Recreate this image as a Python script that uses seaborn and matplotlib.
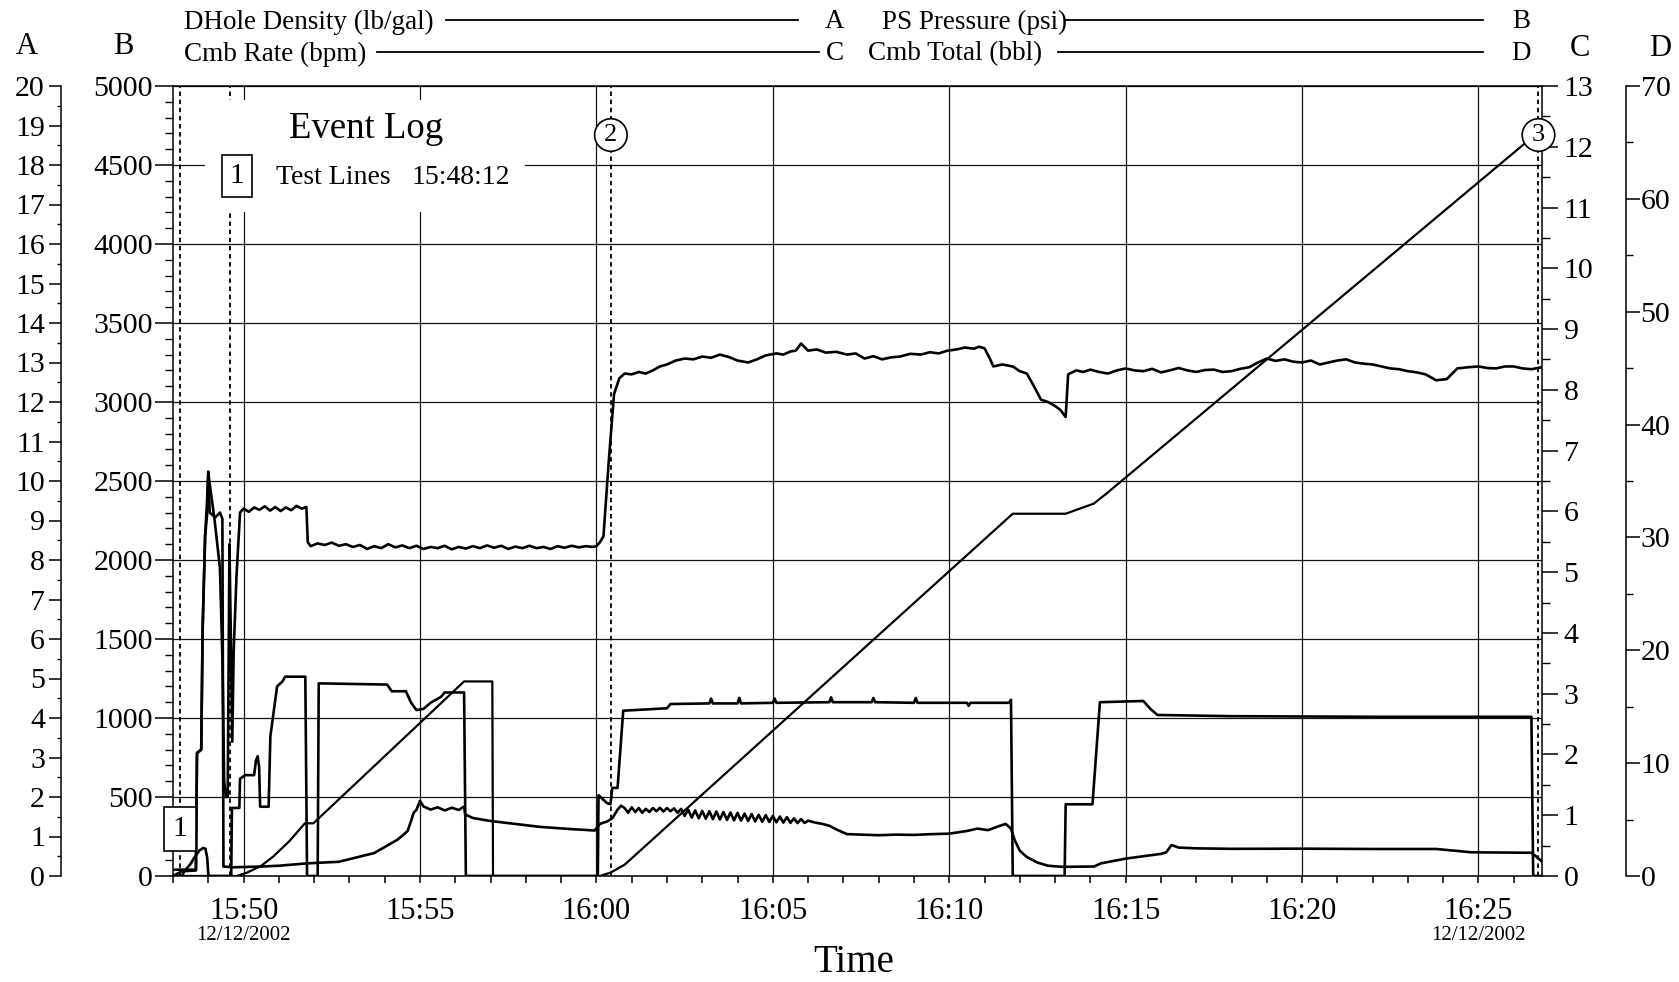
import numpy as np
import pandas as pd
import matplotlib
matplotlib.use("Agg")
import matplotlib.pyplot as plt
import matplotlib.dates as mdates
import matplotlib.transforms as mtrans
from matplotlib.ticker import MultipleLocator, FixedLocator, FixedFormatter
from matplotlib.lines import Line2D
from matplotlib.patches import Rectangle
import seaborn as sns

# ---------------- data (time = minutes after 15:48:00, 12/12/2002) ----------------
density_pts = [  # DHole Density (lb/gal) -> axis A
    [0, 0.16], [0.65, 0.16], [0.68, 3.1], [0.8, 3.2], [0.84, 6.2], [0.91, 8.6], [0.97, 9.2],
    [1.0, 10.2], [1.03, 10.0], [1.18, 9.0], [1.33, 7.8], [1.4, 5.5], [1.45, 2.4], [1.5, 2.0],
    [1.55, 2.0], [1.6, 8.4], [1.64, 6.0], [1.68, 3.4], [1.72, 5.7], [1.8, 7.6], [1.9, 9.2],
    [2.0, 9.3], [2.15, 9.22], [2.3, 9.33], [2.45, 9.27], [2.6, 9.36], [2.75, 9.25],
    [2.9, 9.34], [3.05, 9.24], [3.2, 9.33], [3.35, 9.26], [3.5, 9.37], [3.65, 9.3],
    [3.78, 9.34], [3.82, 8.45], [3.9, 8.35], [4.1, 8.42], [4.3, 8.38], [4.5, 8.44], [4.7, 8.36],
    [4.9, 8.4], [5.1, 8.33], [5.3, 8.38], [5.5, 8.28], [5.7, 8.35], [5.9, 8.3], [6.1, 8.4],
    [6.3, 8.32], [6.5, 8.37], [6.7, 8.3], [6.9, 8.36], [7.1, 8.28], [7.3, 8.33], [7.5, 8.3],
    [7.7, 8.36], [7.9, 8.27], [8.1, 8.33], [8.3, 8.29], [8.5, 8.35], [8.7, 8.3], [8.9, 8.37],
    [9.1, 8.31], [9.3, 8.36], [9.5, 8.28], [9.7, 8.34], [9.9, 8.3], [10.1, 8.36], [10.3, 8.3],
    [10.5, 8.33], [10.7, 8.28], [10.9, 8.35], [11.1, 8.31], [11.3, 8.36], [11.5, 8.32],
    [11.7, 8.35], [11.9, 8.33], [12.0, 8.35], [12.1, 8.45], [12.2, 8.6], [12.35, 10.5],
    [12.5, 12.2], [12.65, 12.6], [12.8, 12.72], [13.0, 12.7], [13.2, 12.76], [13.4, 12.72],
    [13.6, 12.8], [13.8, 12.9], [14.0, 12.95], [14.25, 13.05], [14.5, 13.1], [14.75, 13.08],
    [15.0, 13.15], [15.25, 13.12], [15.5, 13.2], [15.75, 13.14], [16.0, 13.05], [16.3, 13.0],
    [16.55, 13.08], [16.8, 13.18], [17.1, 13.23], [17.3, 13.2], [17.5, 13.28], [17.65, 13.3],
    [17.8, 13.48], [18.0, 13.3], [18.25, 13.33], [18.5, 13.25], [18.8, 13.27], [19.1, 13.2],
    [19.35, 13.23], [19.6, 13.1], [19.85, 13.16], [20.1, 13.08], [20.35, 13.13],
    [20.6, 13.15], [20.9, 13.22], [21.2, 13.2], [21.45, 13.26], [21.7, 13.23], [21.95, 13.3],
    [22.2, 13.33], [22.45, 13.38], [22.7, 13.35], [22.85, 13.4], [23.0, 13.36], [23.15, 13.1],
    [23.25, 12.9], [23.5, 12.95], [23.8, 12.9], [24.0, 12.78], [24.2, 12.72], [24.4, 12.4],
    [24.6, 12.06], [24.8, 12.0], [25.0, 11.9], [25.15, 11.8], [25.3, 11.62], [25.37, 12.7],
    [25.6, 12.8], [25.8, 12.76], [26.0, 12.82], [26.25, 12.76], [26.5, 12.72], [26.75, 12.8],
    [27.0, 12.85], [27.25, 12.8], [27.5, 12.78], [27.75, 12.84], [28.0, 12.75], [28.25, 12.8],
    [28.5, 12.86], [28.75, 12.8], [29.0, 12.76], [29.25, 12.81], [29.5, 12.82], [29.75, 12.76],
    [30.0, 12.78], [30.25, 12.84], [30.5, 12.88], [30.75, 13.0], [31.0, 13.1], [31.25, 13.04],
    [31.5, 13.08], [31.75, 13.02], [32.0, 13.0], [32.25, 13.05], [32.5, 12.95], [32.75, 13.0],
    [33.0, 13.05], [33.25, 13.08], [33.5, 13.0], [33.75, 12.97], [34.0, 12.95], [34.25, 12.9],
    [34.5, 12.85], [34.75, 12.83], [35.0, 12.78], [35.25, 12.75], [35.5, 12.7], [35.8, 12.55],
    [36.1, 12.58], [36.4, 12.85], [36.7, 12.88], [37.0, 12.9], [37.25, 12.86], [37.5, 12.85],
    [37.75, 12.9], [38.0, 12.9], [38.25, 12.85], [38.5, 12.83], [38.8, 12.88],
]

pressure_pts = [  # PS Pressure (psi) -> axis B
    [0, 0], [0.25, 30], [0.65, 35], [0.68, 780], [0.8, 800], [0.84, 1580], [0.91, 2150],
    [0.96, 2350], [1.0, 2560], [1.04, 2300], [1.2, 2270], [1.33, 2300], [1.4, 2260], [1.43, 60],
    [1.7, 55], [2.5, 60], [3.0, 65], [3.8, 80], [4.7, 90], [5.7, 145], [6.35, 228], [6.5, 255],
    [6.65, 285], [6.75, 350], [6.82, 400], [6.9, 420], [7.0, 475], [7.1, 440], [7.3, 420],
    [7.5, 435], [7.7, 415], [7.9, 432], [8.1, 418], [8.25, 440], [8.28, 390], [8.5, 367],
    [9.0, 348], [9.5, 335], [10.4, 311], [11.2, 298], [11.95, 288], [12.1, 330], [12.3, 345],
    [12.45, 365], [12.6, 420], [12.7, 445], [12.8, 430], [12.9, 400], [13.0, 435], [13.1, 405],
    [13.2, 430], [13.3, 400], [13.4, 425], [13.5, 405], [13.6, 430], [13.7, 410], [13.8, 432],
    [13.9, 408], [14.0, 430], [14.1, 410], [14.2, 428], [14.3, 400], [14.4, 425], [14.5, 380],
    [14.6, 420], [14.7, 370], [14.8, 415], [14.9, 365], [15.0, 412], [15.1, 362], [15.2, 410],
    [15.3, 360], [15.4, 408], [15.5, 358], [15.6, 405], [15.7, 355], [15.8, 402], [15.9, 352],
    [16.0, 400], [16.1, 350], [16.2, 395], [16.3, 348], [16.4, 392], [16.5, 345], [16.6, 388],
    [16.7, 343], [16.8, 385], [16.9, 342], [17.0, 380], [17.1, 340], [17.2, 376], [17.3, 338],
    [17.4, 372], [17.5, 336], [17.6, 365], [17.7, 335], [17.8, 360], [17.9, 336], [18.0, 350],
    [18.2, 338], [18.4, 330], [18.6, 318], [18.8, 295], [19.1, 265], [19.5, 262], [20.0, 258],
    [20.5, 262], [21.0, 260], [21.5, 265], [22.0, 268], [22.5, 285], [22.8, 300], [23.1, 290],
    [23.4, 315], [23.6, 330], [23.75, 300], [23.85, 230], [24.0, 160], [24.2, 120], [24.5, 85],
    [24.8, 65], [25.2, 58], [26.1, 60], [26.3, 80], [27.0, 110], [27.5, 125], [28.0, 140],
    [28.15, 150], [28.3, 196], [28.5, 180], [29.0, 175], [30.0, 172], [32.0, 173], [34.0, 171],
    [35.8, 171], [36.8, 150], [38.5, 147], [38.6, 130], [38.85, 82],
]

rate_pts = [  # Cmb Rate (bpm) -> axis C
    [0, 0], [0.25, 0.0], [0.35, 0.1], [0.5, 0.2], [0.6, 0.3], [0.75, 0.42], [0.85, 0.46],
    [0.92, 0.45], [0.97, 0.3], [1.0, 0.02], [1.02, 0], [1.65, 0], [1.67, 1.12], [1.88, 1.12],
    [1.9, 1.6], [2.05, 1.66], [2.3, 1.66], [2.35, 1.9], [2.4, 1.97], [2.44, 1.8], [2.47, 1.14],
    [2.71, 1.14], [2.76, 2.3], [2.95, 3.12], [3.1, 3.2], [3.18, 3.28], [3.75, 3.28], [3.8, 0],
    [4.1, 0], [4.13, 3.17], [6.07, 3.15], [6.2, 3.04], [6.6, 3.04], [6.75, 2.85], [6.9, 2.73],
    [7.1, 2.75], [7.3, 2.85], [7.6, 2.95], [7.7, 3.02], [8.25, 3.02], [8.3, 0], [12.04, 0],
    [12.06, 1.33], [12.3, 1.2], [12.4, 1.18], [12.45, 1.45], [12.6, 1.45], [12.76, 2.72],
    [14.0, 2.76], [14.1, 2.83], [15.2, 2.84], [15.25, 2.92], [15.3, 2.84], [16.0, 2.84],
    [16.05, 2.93], [16.1, 2.84], [17.0, 2.85], [17.05, 2.92], [17.1, 2.85], [18.6, 2.86],
    [18.65, 2.94], [18.7, 2.86], [19.8, 2.86], [19.85, 2.93], [19.9, 2.86], [21.0, 2.85],
    [21.05, 2.93], [21.1, 2.85], [22.5, 2.85], [22.55, 2.8], [22.6, 2.85], [23.7, 2.85],
    [23.75, 2.9], [23.8, 0], [25.27, 0], [25.3, 1.18], [26.06, 1.18], [26.27, 2.86],
    [27.5, 2.88], [27.7, 2.75], [27.9, 2.65], [30.0, 2.63], [34.0, 2.62], [38.5, 2.62],
    [38.55, 0], [38.8, 0],
]

total_pts = [  # Cmb Total (bbl) -> axis D
    [0, 0], [1.8, 0], [2.1, 0.3], [2.5, 0.9], [2.85, 1.75], [3.0, 2.2], [3.3, 3.1],
    [3.74, 4.67], [3.98, 4.67], [8.25, 17.24], [9.05, 17.24], [9.07, 0], [12.1, 0],
    [12.4, 0.3], [12.8, 1.0], [23.8, 32.1], [25.3, 32.1], [26.1, 33.0], [26.5, 34.0],
    [38.5, 65.4], [38.55, 65.4],
]

event_times = [0.2, 1.62, 12.41, 38.7]      # dashed event markers
event_marks = ["1", "", "2", "3"]
tick_labels = ["15:50", "15:55", "16:00", "16:05", "16:10", "16:15", "16:20", "16:25"]
x_end_min = 38.8

# ---------------- helpers ----------------
base = pd.Timestamp("2002-12-12 15:48:00")
def to_df(pts, name):
    arr = np.array(pts, dtype=float)
    return pd.DataFrame({"time": base + pd.to_timedelta(arr[:, 0], unit="min"), name: arr[:, 1]})

W, H = 1679, 982
plt.rcParams["font.family"] = ["Liberation Serif", "DejaVu Serif"]
plt.rcParams["axes.linewidth"] = 1.1

fig = plt.figure(figsize=(W / 100, H / 100), dpi=100)
fig.patch.set_facecolor("white")
ax = fig.add_axes([173 / W, 1 - 876 / H, (1542 - 173) / W, (876 - 86) / H])
axA = ax.twinx()
axC = ax.twinx()
axD = ax.twinx()

LW = 1.9
sns.lineplot(data=to_df(pressure_pts, "v"), x="time", y="v", ax=ax, color="black",
             linewidth=LW, estimator=None, sort=False, legend=False)
sns.lineplot(data=to_df(density_pts, "v"), x="time", y="v", ax=axA, color="black",
             linewidth=LW, estimator=None, sort=False, legend=False)
sns.lineplot(data=to_df(rate_pts, "v"), x="time", y="v", ax=axC, color="black",
             linewidth=LW, estimator=None, sort=False, legend=False)
sns.lineplot(data=to_df(total_pts, "v"), x="time", y="v", ax=axD, color="black",
             linewidth=1.6, estimator=None, sort=False, legend=False)

for a in (ax, axA, axC, axD):
    a.set_xlabel("")
    a.set_ylabel("")

ax.set_xlim(base, base + pd.Timedelta(minutes=x_end_min))
ax.set_ylim(0, 5000)
axA.set_ylim(0, 20)
axC.set_ylim(0, 13)
axD.set_ylim(0, 70)

# ---- spines ----
ax.spines["right"].set_visible(False)
for s in ("right", "top", "bottom"):
    axA.spines[s].set_visible(False)
axA.spines["left"].set_visible(True)
axA.spines["left"].set_position(("outward", (173 - 61) * 0.72))
axA.yaxis.tick_left()
for s in ("left", "top", "bottom"):
    axC.spines[s].set_visible(False)
    axD.spines[s].set_visible(False)
axD.spines["right"].set_position(("outward", (1626 - 1542) * 0.72))

# ---- ticks ----
FS = 21.5
ax.yaxis.set_major_locator(MultipleLocator(500))
ax.yaxis.set_minor_locator(MultipleLocator(100))
ax.tick_params(axis="y", which="major", length=13, width=1.1, pad=1.5, labelsize=FS)
ax.tick_params(axis="y", which="minor", length=5.8, width=1.0)

axA.yaxis.set_major_locator(MultipleLocator(1))
axA.yaxis.set_minor_locator(MultipleLocator(0.5))
axA.tick_params(axis="y", which="major", length=8.6, width=1.1, pad=3, labelsize=FS)
axA.tick_params(axis="y", which="minor", length=3, width=1.0)

axC.yaxis.set_major_locator(MultipleLocator(1))
axC.yaxis.set_minor_locator(MultipleLocator(0.5))
axC.tick_params(axis="y", which="major", length=11.5, width=1.1, pad=4, labelsize=FS)
axC.tick_params(axis="y", which="minor", length=5.8, width=1.0)

axD.yaxis.set_major_locator(MultipleLocator(10))
axD.yaxis.set_minor_locator(MultipleLocator(5))
axD.tick_params(axis="y", which="major", length=10, width=1.1, pad=0.5, labelsize=FS)
axD.tick_params(axis="y", which="minor", length=5, width=1.0)

tick_pos = [mdates.date2num(pd.Timestamp("2002-12-12 " + t)) for t in tick_labels]
ax.xaxis.set_major_locator(FixedLocator(tick_pos))
ax.xaxis.set_major_formatter(FixedFormatter(tick_labels))
ax.xaxis.set_minor_locator(mdates.MinuteLocator())
ax.tick_params(axis="x", which="both", length=5, width=1.1, pad=10, labelsize=22)

ax.grid(True, which="major", axis="both", color="#151515", linewidth=0.9)
ax.set_axisbelow(True)

# ---- event lines ----
for t in event_times:
    ax.axvline(base + pd.Timedelta(minutes=t), color="black", linewidth=1.3,
               linestyle=(0, (2.5, 2)), zorder=3)

blend = mtrans.blended_transform_factory(axD.transData, axD.transAxes)
for t, lab in zip(event_times, event_marks):
    if lab == "1":
        axD.text(base + pd.Timedelta(minutes=t), (876 - 829) / 790, lab, transform=blend,
                 ha="center", va="center", fontsize=21, clip_on=False, zorder=10,
                 bbox=dict(boxstyle="square,pad=0.3", fc="white", ec="black", lw=1.2))
    elif lab:
        axD.text(base + pd.Timedelta(minutes=t), (876 - 135) / 790, lab, transform=blend,
                 ha="center", va="center", fontsize=19, clip_on=False, zorder=10,
                 bbox=dict(boxstyle="circle,pad=0.2", fc="white", ec="black", lw=1.2))

# date under first/last labels
bx = mtrans.blended_transform_factory(ax.transData, ax.transAxes)
for t in (tick_labels[0], tick_labels[-1]):
    ax.text(pd.Timestamp("2002-12-12 " + t), (876 - 936) / 790, "12/12/2002", transform=bx,
            ha="center", va="center", fontsize=15, clip_on=False)

# ---- figure-level decorations ----
def fx(x): return x / W
def fy(y): return 1 - y / H

fig.text(fx(854), fy(962), "Time", fontsize=28, ha="center", va="center")
for lab, x, y in (("A", 27, 46), ("B", 123, 46), ("C", 1580, 48), ("D", 1660, 48)):
    fig.text(fx(x), fy(y), lab, fontsize=22, ha="center", va="center")

HFS = 19.5
header = [
    ("DHole Density (lb/gal)", 184, 22, 446, 798, "A", 835),
    ("PS Pressure (psi)", 882, 22, 1066, 1483, "B", 1521),
    ("Cmb Rate (bpm)", 184, 54, 377, 819, "C", 835),
    ("Cmb Total (bbl)", 868, 54, 1058, 1483, "D", 1521),
]
for name, x0, y, l0, l1, letter, lx in header:
    fig.text(fx(x0), fy(y), name, fontsize=HFS, ha="left", va="center")
    fig.add_artist(Line2D([fx(l0), fx(l1)], [fy(y - 2), fy(y - 2)], color="black",
                          linewidth=1.3, transform=fig.transFigure))
    fig.text(fx(lx), fy(y), letter, fontsize=HFS, ha="center", va="center")

# event log panel
fig.add_artist(Rectangle((fx(205), fy(212)), (525 - 205) / W, (212 - 100) / H,
                         transform=fig.transFigure, facecolor="white", edgecolor="none",
                         zorder=5))
fig.text(fx(366), fy(129), "Event Log", fontsize=26.5, ha="center", va="center", zorder=6)
fig.text(fx(237), fy(176), "1", fontsize=21, ha="center", va="center", zorder=6,
         bbox=dict(boxstyle="square,pad=0.28", fc="white", ec="black", lw=1.2))
fig.text(fx(276), fy(178), "Test Lines", fontsize=20, ha="left", va="center", zorder=6)
fig.text(fx(412), fy(178), "15:48:12", fontsize=20, ha="left", va="center", zorder=6)

fig.savefig("out.png", dpi=100, facecolor="white")
